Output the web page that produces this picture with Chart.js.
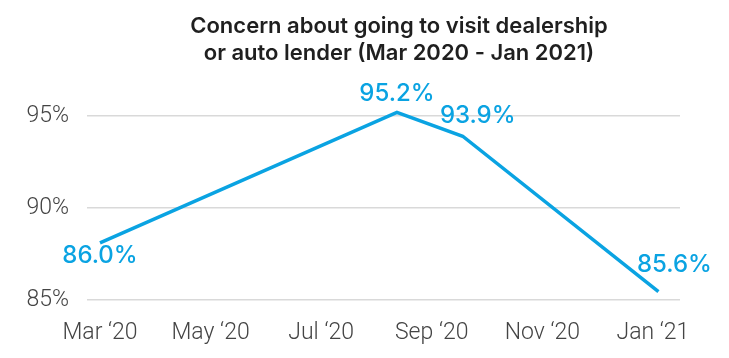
<!DOCTYPE html>
<html>
<head>
<meta charset="utf-8">
<script src="https://cdn.jsdelivr.net/npm/chart.js@4"></script>
<style>
  html, body { margin: 0; padding: 0; background: #ffffff; }
  #wrap { width: 729px; height: 358px; position: relative; }
</style>
</head>
<body>
<div id="wrap"><canvas id="c" width="729" height="358"></canvas></div>
<script>
// ---- data ----
const titleLines = ["Concern about going to visit dealership", "or auto lender (Mar 2020 - Jan 2021)"];
const tickLabels = ["Mar \u201820", "May \u201820", "Jul \u201820", "Sep \u201820", "Nov \u201820", "Jan \u201821"];
const tickMonths = [0, 2, 4, 6, 8, 10];           // months since Mar 2020
const pointMonths = [0, 5.37, 6.56, 10.1];         // months since Mar 2020
const pointValues = [88.1, 95.2, 93.9, 85.45];     // position
const pointLabels = ["86.0%", "95.2%", "93.9%", "85.6%"];
const yTicks = [85, 90, 95];

const BLUE = '#0aa3e2';

const titlePlugin = {
  id: 'customTitle',
  afterDraw(chart) {
    const ctx = chart.ctx;
    ctx.save();
    ctx.fillStyle = '#1f1f1f';
    ctx.font = '600 22px Inter';
    ctx.textAlign = 'center';
    ctx.textBaseline = 'alphabetic';
    ctx.fillText(titleLines[0], 399, 33);
    ctx.fillText(titleLines[1], 399, 60);
    ctx.restore();
  }
};

const labelOffsets = [[0, 13], [0, -19], [15, -20], [16, -27]];
const dataLabelPlugin = {
  id: 'dataLabels',
  afterDatasetsDraw(chart) {
    const ctx = chart.ctx;
    const meta = chart.getDatasetMeta(0);
    ctx.save();
    ctx.fillStyle = BLUE;
    ctx.font = '500 24px Inter';
    ctx.textAlign = 'center';
    ctx.textBaseline = 'middle';
    meta.data.forEach((pt, i) => {
      const o = labelOffsets[i];
      ctx.fillText(pointLabels[i], pt.x + o[0], pt.y + o[1]);
    });
    ctx.restore();
  }
};

new Chart(document.getElementById('c'), {
  type: 'line',
  data: {
    datasets: [{
      data: pointMonths.map((m, i) => ({ x: m, y: pointValues[i] })),
      borderColor: BLUE,
      borderWidth: 3.5,
      pointRadius: 0,
      tension: 0,
      fill: false,
      clip: false
    }]
  },
  options: {
    responsive: false,
    animation: false,
    layout: { padding: { top: 116, right: 49, left: 0, bottom: 0 } },
    plugins: { legend: { display: false }, tooltip: { enabled: false }, title: { display: false } },
    scales: {
      x: {
        type: 'linear',
        min: -0.235,
        max: 10.49,
        afterBuildTicks(scale) { scale.ticks = tickMonths.map(v => ({ value: v })); },
        afterFit(scale) { scale.height = 58; },
        grid: { display: false, drawTicks: false },
        border: { display: false },
        ticks: {
          autoSkip: false,
          maxRotation: 0,
          padding: 19,
          color: '#444444',
          font: { family: 'Roboto', weight: '300', size: 23 },
          callback: (v) => tickLabels[tickMonths.indexOf(v)]
        }
      },
      y: {
        min: 85,
        max: 95,
        afterBuildTicks(scale) { scale.ticks = yTicks.map(v => ({ value: v })); },
        afterFit(scale) { scale.width = 87; },
        grid: { color: '#d9d9d9', lineWidth: 1.5, drawTicks: false },
        border: { display: false },
        ticks: {
          padding: 18,
          color: '#444444',
          font: { family: 'Roboto', weight: '300', size: 23 },
          callback: (v) => v + '%'
        }
      }
    }
  },
  plugins: [titlePlugin, dataLabelPlugin]
});
</script>
</body>
</html>
